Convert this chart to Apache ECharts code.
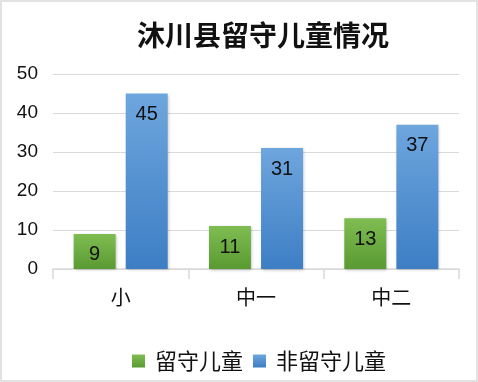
<!DOCTYPE html>
<html>
<head>
<meta charset="utf-8">
<script src="https://cdn.jsdelivr.net/npm/echarts@6/dist/echarts.min.js"></script>
<style>
html,body{margin:0;padding:0;background:#fff;}
#chart{width:478px;height:382px;}
</style>
</head>
<body>
<div id="chart"></div>
<script>
const titleText = '沐川县留守儿童情况';
const categories = ['小', '中一', '中二'];
const seriesNames = ['留守儿童', '非留守儿童'];
const leftBehind = [9, 11, 13];
const notLeftBehind = [45, 31, 37];
const yTicks = { min: 0, max: 50, interval: 10 };

const chart = echarts.init(document.getElementById('chart'), null, { renderer: 'canvas' });
const cjk = '"Noto Sans CJK SC", "Microsoft YaHei", sans-serif';
const latin = '"Liberation Sans", Arial, sans-serif';

function grad(top, bottom) {
  return new echarts.graphic.LinearGradient(0, 0, 0, 1, [
    { offset: 0, color: top },
    { offset: 1, color: bottom }
  ]);
}

const labelStyle = {
  show: true,
  position: 'insideTop',
  distance: 11,
  color: '#111',
  fontSize: 20,
  fontFamily: latin
};

chart.setOption({
  animation: false,
  backgroundColor: '#fff',
  title: {
    text: titleText,
    left: 258,
    textAlign: 'center',
    top: 16,
    textStyle: { fontFamily: cjk, fontWeight: 'bold', fontSize: 28, color: '#111' }
  },
  graphic: [{
    type: 'rect',
    shape: { x: 1, y: 1, width: 476, height: 380 },
    style: { fill: 'none', stroke: '#d9d9d9', lineWidth: 1.5 },
    silent: true,
    z: 100
  }],
  legend: {
    data: seriesNames,
    top: 345,
    left: 127,
    icon: 'rect',
    itemWidth: 13,
    itemHeight: 13,
    itemGap: 10,
    textStyle: { fontFamily: cjk, fontSize: 22, color: '#111', padding: [0, 0, 0, 5] }
  },
  grid: { left: 53, right: 19, top: 74, bottom: 113, containLabel: false },
  xAxis: {
    type: 'category',
    data: categories,
    axisLine: { show: true, lineStyle: { color: '#d9d9d9', width: 1.5 } },
    axisTick: { show: true, alignWithLabel: false, length: 10, lineStyle: { color: '#d9d9d9', width: 1.5 } },
    axisLabel: { fontFamily: cjk, fontSize: 20, color: '#111', margin: 18 }
  },
  yAxis: {
    type: 'value',
    min: yTicks.min,
    max: yTicks.max,
    interval: yTicks.interval,
    axisLine: { show: false },
    axisTick: { show: false },
    splitLine: { lineStyle: { color: '#d9d9d9', width: 1 } },
    axisLabel: { fontFamily: latin, fontSize: 19, color: '#111', margin: 15 }
  },
  series: [
    {
      name: seriesNames[0],
      type: 'bar',
      data: leftBehind,
      barWidth: 42,
      barGap: '24%',
      itemStyle: { color: grad('#7fbd52', '#5a9a32'), shadowColor: 'rgba(0,0,0,0.25)', shadowBlur: 3, shadowOffsetX: 1, shadowOffsetY: 1 },
      label: labelStyle
    },
    {
      name: seriesNames[1],
      type: 'bar',
      data: notLeftBehind,
      barWidth: 42,
      barGap: '24%',
      itemStyle: { color: grad('#6ea6de', '#3d7ec4'), shadowColor: 'rgba(0,0,0,0.25)', shadowBlur: 3, shadowOffsetX: 1, shadowOffsetY: 1 },
      label: labelStyle
    }
  ]
});
</script>
</body>
</html>
